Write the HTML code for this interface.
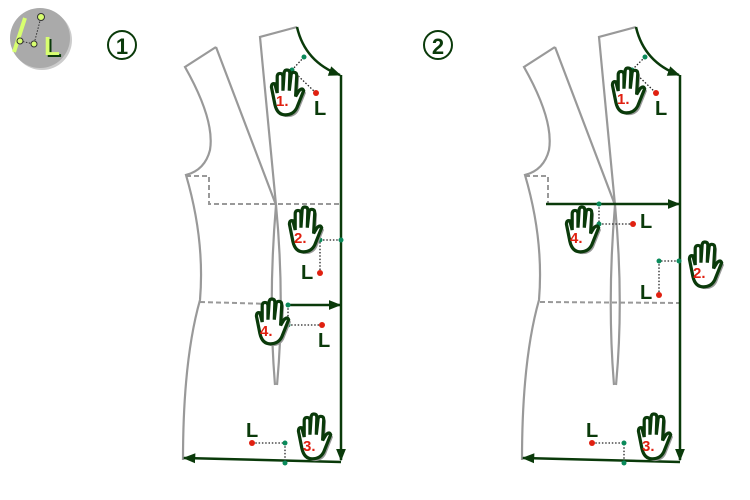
<!DOCTYPE html>
<html><head><meta charset="utf-8"><style>
html,body{margin:0;padding:0;background:#fff;width:750px;height:500px;overflow:hidden}
text{font-family:"Liberation Sans",sans-serif;font-weight:bold}
</style></head><body>
<svg width="750" height="500" viewBox="0 0 750 500" xmlns="http://www.w3.org/2000/svg">
<defs>
<marker id="ar" viewBox="0 0 10 10" refX="9" refY="5" markerWidth="5" markerHeight="5" orient="auto"><path d="M0,1 L10,5 L0,9 Z" fill="#0a3a0a"/></marker>
<g id="hand">
<g transform="scale(1.15)">
<path transform="translate(2,2)" d="M6,30 L3,15 Q3,11 6,12 L8,20 L8,6 Q8,3 10.5,3 Q13,3 13,6 L13,18 L14,3 Q14,0 16.5,0 Q19,0 19,3 L18.5,18 L20,5 Q20,2 22.5,2 Q25,2 25,5 L24,23 L27,18 Q30,15 31,18 L25,33 Q22,39 15,39 Q8,39 6,30 Z" fill="#999"/>
<path d="M6,30 L3,15 Q3,11 6,12 L8,20 L8,6 Q8,3 10.5,3 Q13,3 13,6 L13,18 L14,3 Q14,0 16.5,0 Q19,0 19,3 L18.5,18 L20,5 Q20,2 22.5,2 Q25,2 25,5 L24,23 L27,18 Q30,15 31,18 L25,33 Q22,39 15,39 Q8,39 6,30 Z" fill="#fff" stroke="#0a3a0a" stroke-width="2.8"/>
</g>
</g>
<g id="outline" fill="none" stroke="#999" stroke-width="2.2">
<path d="M216,47 L185,67 Q215,120 210,150 Q205,170 186,175 Q205,240 200,300 Q183,360 183,460"/>
<path d="M216,47 L276,205 Q285,300 277,385"/>
<path d="M297,27 L260,37 L276,205 Q268,300 275,385"/>
</g>
</defs>

<!-- icon -->
<circle cx="42" cy="40" r="30" fill="#ccc"/>
<circle cx="40" cy="38" r="30" fill="#aaa"/>
<line x1="25" y1="18" x2="14" y2="52" stroke="#d8ff70" stroke-width="4"/>
<polyline points="20,41 34,44 41,17" fill="none" stroke="#333" stroke-width="1" stroke-dasharray="1.5,1.5"/>
<circle cx="20" cy="41" r="3" fill="#d8ff70" stroke="#333"/>
<circle cx="34" cy="44" r="3" fill="#d8ff70" stroke="#333"/>
<circle cx="41" cy="17" r="3.5" fill="#d8ff70" stroke="#333"/>
<text x="46" y="57" font-size="26" fill="#0a3a0a">L</text>
<text x="44" y="55" font-size="26" fill="#d8ff70">L</text>

<!-- circled numbers -->
<circle cx="122" cy="45" r="14" fill="none" stroke="#0a3a0a" stroke-width="2"/>
<text x="122" y="54" font-size="22" fill="#0a3a0a" text-anchor="middle" font-weight="normal">1</text>
<circle cx="438" cy="45" r="14" fill="none" stroke="#0a3a0a" stroke-width="2"/>
<text x="438" y="54" font-size="22" fill="#0a3a0a" text-anchor="middle" font-weight="normal">2</text>

<!-- PANEL 1 -->
<use href="#outline"/>
<g fill="none" stroke="#999" stroke-width="2" stroke-dasharray="5,3">
<polyline points="186,176 209,176 209,204 341,204"/>
<line x1="200" y1="302" x2="272" y2="304"/>
</g>
<g stroke="#0a3a0a" stroke-width="2.5" fill="none">
<path d="M297,27 Q305,62 340,75" marker-end="url(#ar)"/>
<line x1="341" y1="75" x2="341" y2="460" marker-end="url(#ar)"/>
<line x1="341" y1="462" x2="184" y2="458" marker-end="url(#ar)"/>
<line x1="287" y1="305" x2="340" y2="305" marker-end="url(#ar)"/>
</g>
<g stroke="#222" stroke-width="1.3" stroke-dasharray="1.5,1.8" fill="none">
<polyline points="304,57 292,70 316,93"/>
<polyline points="341,240 320,240 320,273"/>
<polyline points="252,443 285,443 285,463"/>
<polyline points="288,305 288,325 322,325"/>
</g>
<g fill="#0a8a5a">
<circle cx="304" cy="57" r="2.5"/><circle cx="292" cy="70" r="2.5"/>
<circle cx="341" cy="240" r="2.5"/><circle cx="320" cy="240" r="2.5"/>
<circle cx="285" cy="443" r="2.5"/><circle cx="285" cy="463" r="2.5"/>
<circle cx="288" cy="305" r="2.5"/><circle cx="288" cy="325" r="2.5"/>
</g>
<g fill="#e02010">
<circle cx="316" cy="93" r="3"/><circle cx="320" cy="273" r="3"/>
<circle cx="252" cy="443" r="3"/><circle cx="322" cy="325" r="3"/>
</g>
<g font-size="20" fill="#0a3a0a">
<text x="314" y="115">L</text><text x="301" y="279">L</text>
<text x="246" y="437">L</text><text x="318" y="347">L</text>
</g>
<use href="#hand" x="268" y="70"/>
<use href="#hand" x="286" y="207"/>
<use href="#hand" x="253" y="299"/>
<use href="#hand" x="295" y="414"/>
<g font-size="15" fill="#e02010">
<text x="276" y="106">1.</text><text x="294" y="243">2.</text>
<text x="260" y="336">4.</text><text x="303" y="451">3.</text>
</g>

<!-- PANEL 2 -->
<use href="#outline" x="339"/>
<g fill="none" stroke="#999" stroke-width="2" stroke-dasharray="5,3">
<polyline points="525,176 548,176 548,204"/>
<line x1="540" y1="302" x2="680" y2="303"/>
</g>
<g stroke="#0a3a0a" stroke-width="2.5" fill="none">
<path d="M636,27 Q644,62 679,75" marker-end="url(#ar)"/>
<line x1="680" y1="75" x2="680" y2="460" marker-end="url(#ar)"/>
<line x1="680" y1="462" x2="523" y2="458" marker-end="url(#ar)"/>
<line x1="546" y1="204" x2="679" y2="204" marker-end="url(#ar)"/>
</g>
<g stroke="#222" stroke-width="1.3" stroke-dasharray="1.5,1.8" fill="none">
<polyline points="645,57 632,70 656,93"/>
<polyline points="679,261 659,261 659,295"/>
<polyline points="592,443 624,443 624,463"/>
<polyline points="599,204 599,224 633,224"/>
</g>
<g fill="#0a8a5a">
<circle cx="645" cy="57" r="2.5"/><circle cx="632" cy="70" r="2.5"/>
<circle cx="679" cy="261" r="2.5"/><circle cx="659" cy="261" r="2.5"/>
<circle cx="624" cy="443" r="2.5"/><circle cx="624" cy="463" r="2.5"/>
<circle cx="599" cy="204" r="2.5"/><circle cx="599" cy="224" r="2.5"/>
</g>
<g fill="#e02010">
<circle cx="656" cy="93" r="3"/><circle cx="659" cy="295" r="3"/>
<circle cx="592" cy="443" r="3"/><circle cx="633" cy="224" r="3"/>
</g>
<g font-size="20" fill="#0a3a0a">
<text x="655" y="115">L</text><text x="640" y="299">L</text>
<text x="586" y="437">L</text><text x="640" y="228">L</text>
</g>
<use href="#hand" x="609" y="68"/>
<use href="#hand" x="686" y="242"/>
<use href="#hand" x="563" y="207"/>
<use href="#hand" x="635" y="414"/>
<g font-size="15" fill="#e02010">
<text x="617" y="104">1.</text><text x="693" y="278">2.</text>
<text x="570" y="243">4.</text><text x="642" y="451">3.</text>
</g>
</svg>
</body></html>
